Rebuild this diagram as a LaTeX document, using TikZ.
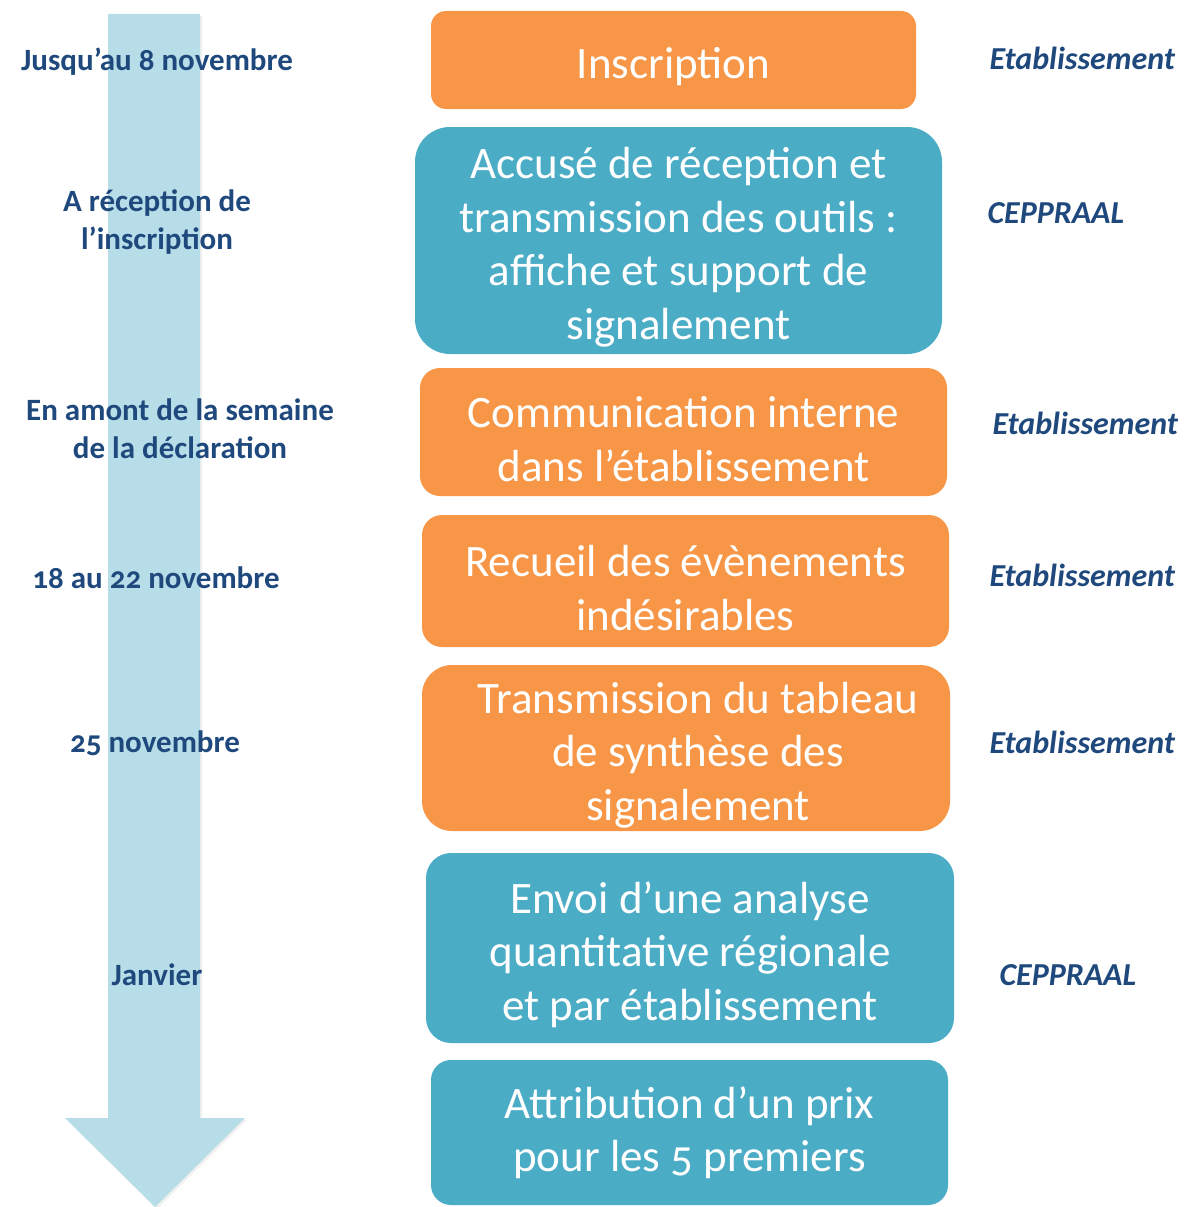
\documentclass[tikz,border=0pt]{standalone}
\usepackage{fontspec}
\setmainfont{Carlito}[Numbers=OldStyle]
\usepackage{xcolor}
\usepackage{tikz}
\definecolor{orangebox}{HTML}{F79646}
\definecolor{bluebox}{HTML}{4BACC6}
\definecolor{timeline}{HTML}{B7DDE8}
\definecolor{navy}{HTML}{1F497D}
\newcommand{\stepgap}{\rule{0pt}{45pt}}
\tikzset{
  stepbase/.style={rectangle, text=white, align=center, inner sep=0pt,
    font=\fontsize{45}{53.5}\selectfont},
  orangestep/.style={stepbase, fill=orangebox},
  bluestep/.style={stepbase, fill=bluebox},
  when/.style={text=navy, align=center, font=\bfseries\fontsize{31}{38}\selectfont},
  who/.style={text=navy, anchor=west, font=\bfseries\itshape\fontsize{32}{36}\selectfont},
}
\begin{document}
\begin{tikzpicture}[x=1pt, y=-1pt]
  \useasboundingbox (0,0) rectangle (1189,1207);
  % timeline arrow
  \fill[black!6] (110,16) -- (202,16) -- (202,1120) -- (247,1120) -- (157,1209) -- (67,1120) -- (110,1120) -- cycle;
  \fill[timeline] (108,14) -- (200,14) -- (200,1118) -- (245,1118) -- (155,1207) -- (65,1118) -- (108,1118) -- cycle;

  % steps
  \node[orangestep, rounded corners=15pt, minimum width=485pt, minimum height=98pt] (inscr) at (673.5,60) {\stepgap Inscription};
  \node[bluestep, rounded corners=35pt, minimum width=527pt, minimum height=227pt] (accuse) at (678.5,240.5)
    {\stepgap Accusé de réception et\\transmission des outils :\\affiche et support de\\signalement};
  \node[orangestep, rounded corners=20pt, minimum width=527pt, minimum height=128pt] (comm) at (683.5,432)
    {\stepgap Communication interne\\dans l’établissement};
  \node[orangestep, rounded corners=20pt, minimum width=527pt, minimum height=132pt] (recueil) at (685.5,581)
    {\stepgap Recueil des évènements\\indésirables};
  \node[orangestep, rounded corners=30pt, minimum width=528pt, minimum height=166pt] (tableau) at (686,748)
    {\stepgap\hspace*{24pt}Transmission du tableau\\\hspace*{24pt}de synthèse des\\\hspace*{24pt}signalement};
  \node[bluestep, rounded corners=25pt, minimum width=528pt, minimum height=190pt] (analyse) at (690,948)
    {\stepgap Envoi d’une analyse\\quantitative régionale\\et par établissement};
  \node[bluestep, rounded corners=20pt, minimum width=517pt, minimum height=145pt] (prix) at (689.5,1132.5)
    {Attribution d’un prix\\pour les 5 premiers};

  % dates
  \node[when] (d1) at (157,62) {Jusqu’au 8 novembre};
  \node[when] (d2) at (157,222) {A réception de\\l’inscription};
  \node[when] (d3) at (180,429) {En amont de la semaine\\de la déclaration};
  \node[when] (d4) at (156,578) {18 au 22 novembre};
  \node[when] (d5) at (155,743) {25 novembre};
  \node[when] (d6) at (157,975) {Janvier};

  % actors
  \node[who] (a1) at (986,58) {Etablissement};
  \node[who] (a2) at (984,213) {CEPPRAAL};
  \node[who] (a3) at (989,423) {Etablissement};
  \node[who] (a4) at (986,575) {Etablissement};
  \node[who] (a5) at (986,742) {Etablissement};
  \node[who] (a6) at (996,975) {CEPPRAAL};
\end{tikzpicture}
\end{document}
